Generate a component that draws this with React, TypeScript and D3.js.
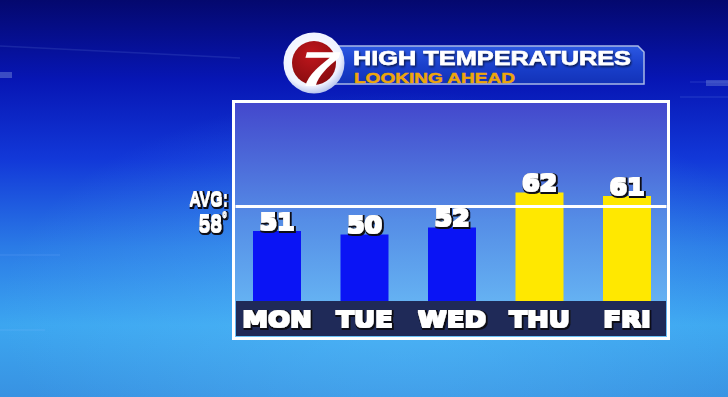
import React from "react";
import * as d3 from "d3";

const days = ["MON", "TUE", "WED", "THU", "FRI"];
const highs = [51, 50, 52, 62, 61];
const barColors = ["#0a14f5", "#0a14f5", "#0a14f5", "#ffe800", "#ffe800"];
const avgValue = 58;
const avgLabel = "AVG:";
const title = "HIGH TEMPERATURES";
const subtitle = "LOOKING AHEAD";

const W = 728;
const H = 397;
const box = { x0: 233.5, y0: 101.5, x1: 668.5, y1: 338.5 };
const bandTop = 301;
const bandBottom = 336;
const barWidth = 48;

export default function App() {
  const x = d3.scalePoint<string>().domain(days).range([277, 627]);
  const y = d3.scaleLinear().domain([31, 62]).range([bandTop, 192.5]);

  return (
    <svg width={W} height={H} style={{ position: "absolute", left: 0, top: 0, display: "block" }}>
      <defs>
        <linearGradient id="bg" x1="0" y1="0" x2="0" y2="1">
          <stop offset="0" stopColor="#04086e" />
          <stop offset="0.2" stopColor="#0716b4" />
          <stop offset="0.4" stopColor="#1238d8" />
          <stop offset="0.62" stopColor="#2a7ae6" />
          <stop offset="0.82" stopColor="#3ca6f0" />
          <stop offset="1" stopColor="#3892e2" />
        </linearGradient>
        <radialGradient id="glow" cx="0.55" cy="0.78" r="0.55">
          <stop offset="0" stopColor="#62c8ff" stopOpacity="0.4" />
          <stop offset="1" stopColor="#62c8ff" stopOpacity="0" />
        </radialGradient>
        <linearGradient id="inner" x1="0" y1="0" x2="0" y2="1">
          <stop offset="0" stopColor="#4347cc" />
          <stop offset="0.5" stopColor="#558de6" />
          <stop offset="1" stopColor="#6cc2f8" />
        </linearGradient>
        <linearGradient id="banner" x1="0" y1="0" x2="0" y2="1">
          <stop offset="0" stopColor="#2c58e2" />
          <stop offset="0.5" stopColor="#1a40cc" />
          <stop offset="1" stopColor="#1232b8" />
        </linearGradient>
        <radialGradient id="ring" cx="0.45" cy="0.4" r="0.6">
          <stop offset="0" stopColor="#ffffff" />
          <stop offset="0.8" stopColor="#eef2ff" />
          <stop offset="1" stopColor="#b9c6ee" />
        </radialGradient>
        <radialGradient id="red" cx="0.45" cy="0.3" r="0.7">
          <stop offset="0" stopColor="#c0161c" />
          <stop offset="1" stopColor="#8a0c10" />
        </radialGradient>
        <filter id="shadow" x="-20%" y="-20%" width="140%" height="140%">
          <feDropShadow dx="1" dy="1.5" stdDeviation="1" floodColor="#000" floodOpacity="0.7" />
        </filter>
        <filter id="heavy" x="-20%" y="-30%" width="140%" height="160%">
          <feMorphology in="SourceGraphic" operator="dilate" radius="0.5" result="fat" />
          <feMorphology in="SourceAlpha" operator="dilate" radius="1.6" result="outl" />
          <feOffset in="outl" dx="0.8" dy="1" result="off" />
          <feGaussianBlur in="off" stdDeviation="0.5" result="sh" />
          <feFlood floodColor="#101018" result="ink" />
          <feComposite in="ink" in2="sh" operator="in" result="shc" />
          <feMerge>
            <feMergeNode in="shc" />
            <feMergeNode in="fat" />
          </feMerge>
        </filter>
      </defs>

      {/* background */}
      <rect x={0} y={0} width={W} height={H} fill="url(#bg)" />
      <rect x={0} y={0} width={W} height={H} fill="url(#glow)" />
      <g opacity={0.12} fill="none" stroke="#9fc0ff" strokeWidth={1.5}>
        <line x1={0} y1={46} x2={240} y2={58} />
        <line x1={690} y1={82} x2={728} y2={82} />
        <line x1={680} y1={97} x2={728} y2={97} />
        <line x1={0} y1={255} x2={60} y2={255} />
        <line x1={0} y1={330} x2={45} y2={330} />
      </g>
      <rect x={0} y={72} width={12} height={6} fill="#8aa0e0" opacity={0.4} />
      <rect x={706} y={80} width={22} height={6} fill="#8aa0e0" opacity={0.35} />

      {/* chart box */}
      <rect x={box.x0} y={box.y0} width={box.x1 - box.x0} height={box.y1 - box.y0} fill="url(#inner)" stroke="#ffffff" strokeWidth={3} />
      <rect x={box.x0 + 2.5} y={bandTop} width={box.x1 - box.x0 - 5} height={bandBottom - bandTop} fill="#1f2a58" />

      {/* bars */}
      {days.map((d, i) => (
        <rect key={d} x={(x(d) as number) - barWidth / 2} y={y(highs[i])} width={barWidth} height={bandTop - y(highs[i])} fill={barColors[i]} />
      ))}

      {/* average line */}
      <line x1={box.x0 + 2} x2={box.x1 - 2} y1={y(avgValue)} y2={y(avgValue)} stroke="#ffffff" strokeWidth={3} />

      {/* value labels */}
      {days.map((d, i) => (
        <text
          key={"v" + d}
          transform={`translate(${x(d)},${y(highs[i]) - 1.5}) scale(1.1,1)`}
          textAnchor="middle"
          fontFamily="DejaVu Sans"
          fontWeight="bold"
          fontSize={23}
          fill="#ffffff"
          filter="url(#heavy)"
        >
          {highs[i]}
        </text>
      ))}

      {/* day labels */}
      {days.map((d) => (
        <text
          key={"d" + d}
          transform={`translate(${x(d)},326.5) scale(1.18,1)`}
          textAnchor="middle"
          fontFamily="DejaVu Sans"
          fontWeight="bold"
          fontSize={22}
          fill="#ffffff"
          filter="url(#heavy)"
        >
          {d}
        </text>
      ))}

      {/* avg label */}
      <text transform={`translate(228,${y(avgValue) - 0.5}) scale(0.8,1)`} textAnchor="end" fontFamily="Liberation Sans" fontWeight="bold" fontSize={20} fill="#ffffff" filter="url(#heavy)">
        {avgLabel}
      </text>
      <text transform={`translate(227,${y(avgValue) + 25.5}) scale(0.9,1)`} textAnchor="end" fontFamily="Liberation Sans" fontWeight="bold" fontSize={23.5} fill="#ffffff" filter="url(#heavy)">
        {avgValue}
        <tspan fontSize={14} dy={-9}>°</tspan>
      </text>

      {/* banner */}
      <path d="M 326 46 L 638 46 L 644 52 L 644 84 L 326 84 Z" fill="url(#banner)" stroke="#a8b8e6" strokeWidth={1.5} />
      <text x={353} y={65} fontFamily="Liberation Sans" fontWeight="bold" fontSize={20} fill="#ffffff" stroke="#ffffff" strokeWidth={0.6} textLength={278} lengthAdjust="spacingAndGlyphs" filter="url(#shadow)">
        {title}
      </text>
      <text x={354} y={82.5} fontFamily="Liberation Sans" fontWeight="bold" fontSize={15} fill="#eea60a" stroke="#eea60a" strokeWidth={0.5} textLength={161} lengthAdjust="spacingAndGlyphs">
        {subtitle}
      </text>

      {/* logo */}
      <circle cx={314} cy={63} r={30.5} fill="url(#ring)" />
      <circle cx={314} cy={63} r={22} fill="url(#red)" />
      <text transform="translate(315,86) scale(1.45,1) skewX(-10)" textAnchor="middle" fontFamily="Liberation Sans" fontWeight="bold" fontSize={49} fill="#ffffff">
        7
      </text>
    </svg>
  );
}
